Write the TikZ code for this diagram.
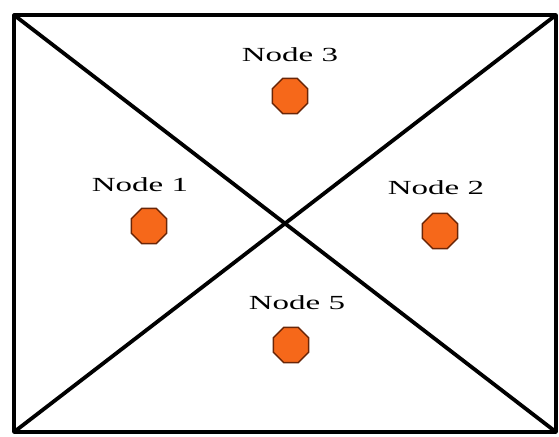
\documentclass[tikz,border=0pt]{standalone}
\usepackage{fontspec}
\setmainfont{Liberation Serif}
\usetikzlibrary{shapes.geometric,positioning}
\definecolor{nodeorange}{RGB}{246,104,26}
\definecolor{nodeedge}{RGB}{105,38,8}
\tikzset{
  sensor/.style={regular polygon, regular polygon sides=8, minimum size=38pt,
    inner sep=0pt, fill=nodeorange, draw=nodeedge, line width=1.5pt},
  sensortext/.style={inner sep=0pt, font=\fontsize{20pt}{20pt}\selectfont},
  border/.style={line width=3.8pt, line cap=round, line join=round}
}
\newcommand{\wide}[1]{\scalebox{1.65}[1]{#1}}
\begin{document}
\begin{tikzpicture}[x=1pt,y=1pt]
\useasboundingbox[fill=white] (0,0) rectangle (559,436);
% Field corners
\coordinate (tl) at (14,421);
\coordinate (tr) at (556,421);
\coordinate (bl) at (14,4);
\coordinate (br) at (556,4);
\draw[border] (tl) -- (tr) -- (br) -- (bl) -- cycle;

% Diagonals
\draw[border] (tl) -- (br);
\draw[border] (bl) -- (tr);

% Sensor nodes
\node[sensor] (n3) at (290,340) {};
\node[sensor] (n1) at (149,210) {};
\node[sensor] (n2) at (440,205) {};
\node[sensor] (n5) at (291,91) {};

% Labels
\node[sensortext, above=34pt of n3.center] (t3) {\wide{Node 3}};
\node[sensortext, above=34pt of n1.center, xshift=-9pt] (t1) {\wide{Node 1}};
\node[sensortext, above=36pt of n2.center, xshift=-4pt] (t2) {\wide{Node 2}};
\node[sensortext, above=35pt of n5.center, xshift=6pt] (t5) {\wide{Node 5}};
\end{tikzpicture}
\end{document}
